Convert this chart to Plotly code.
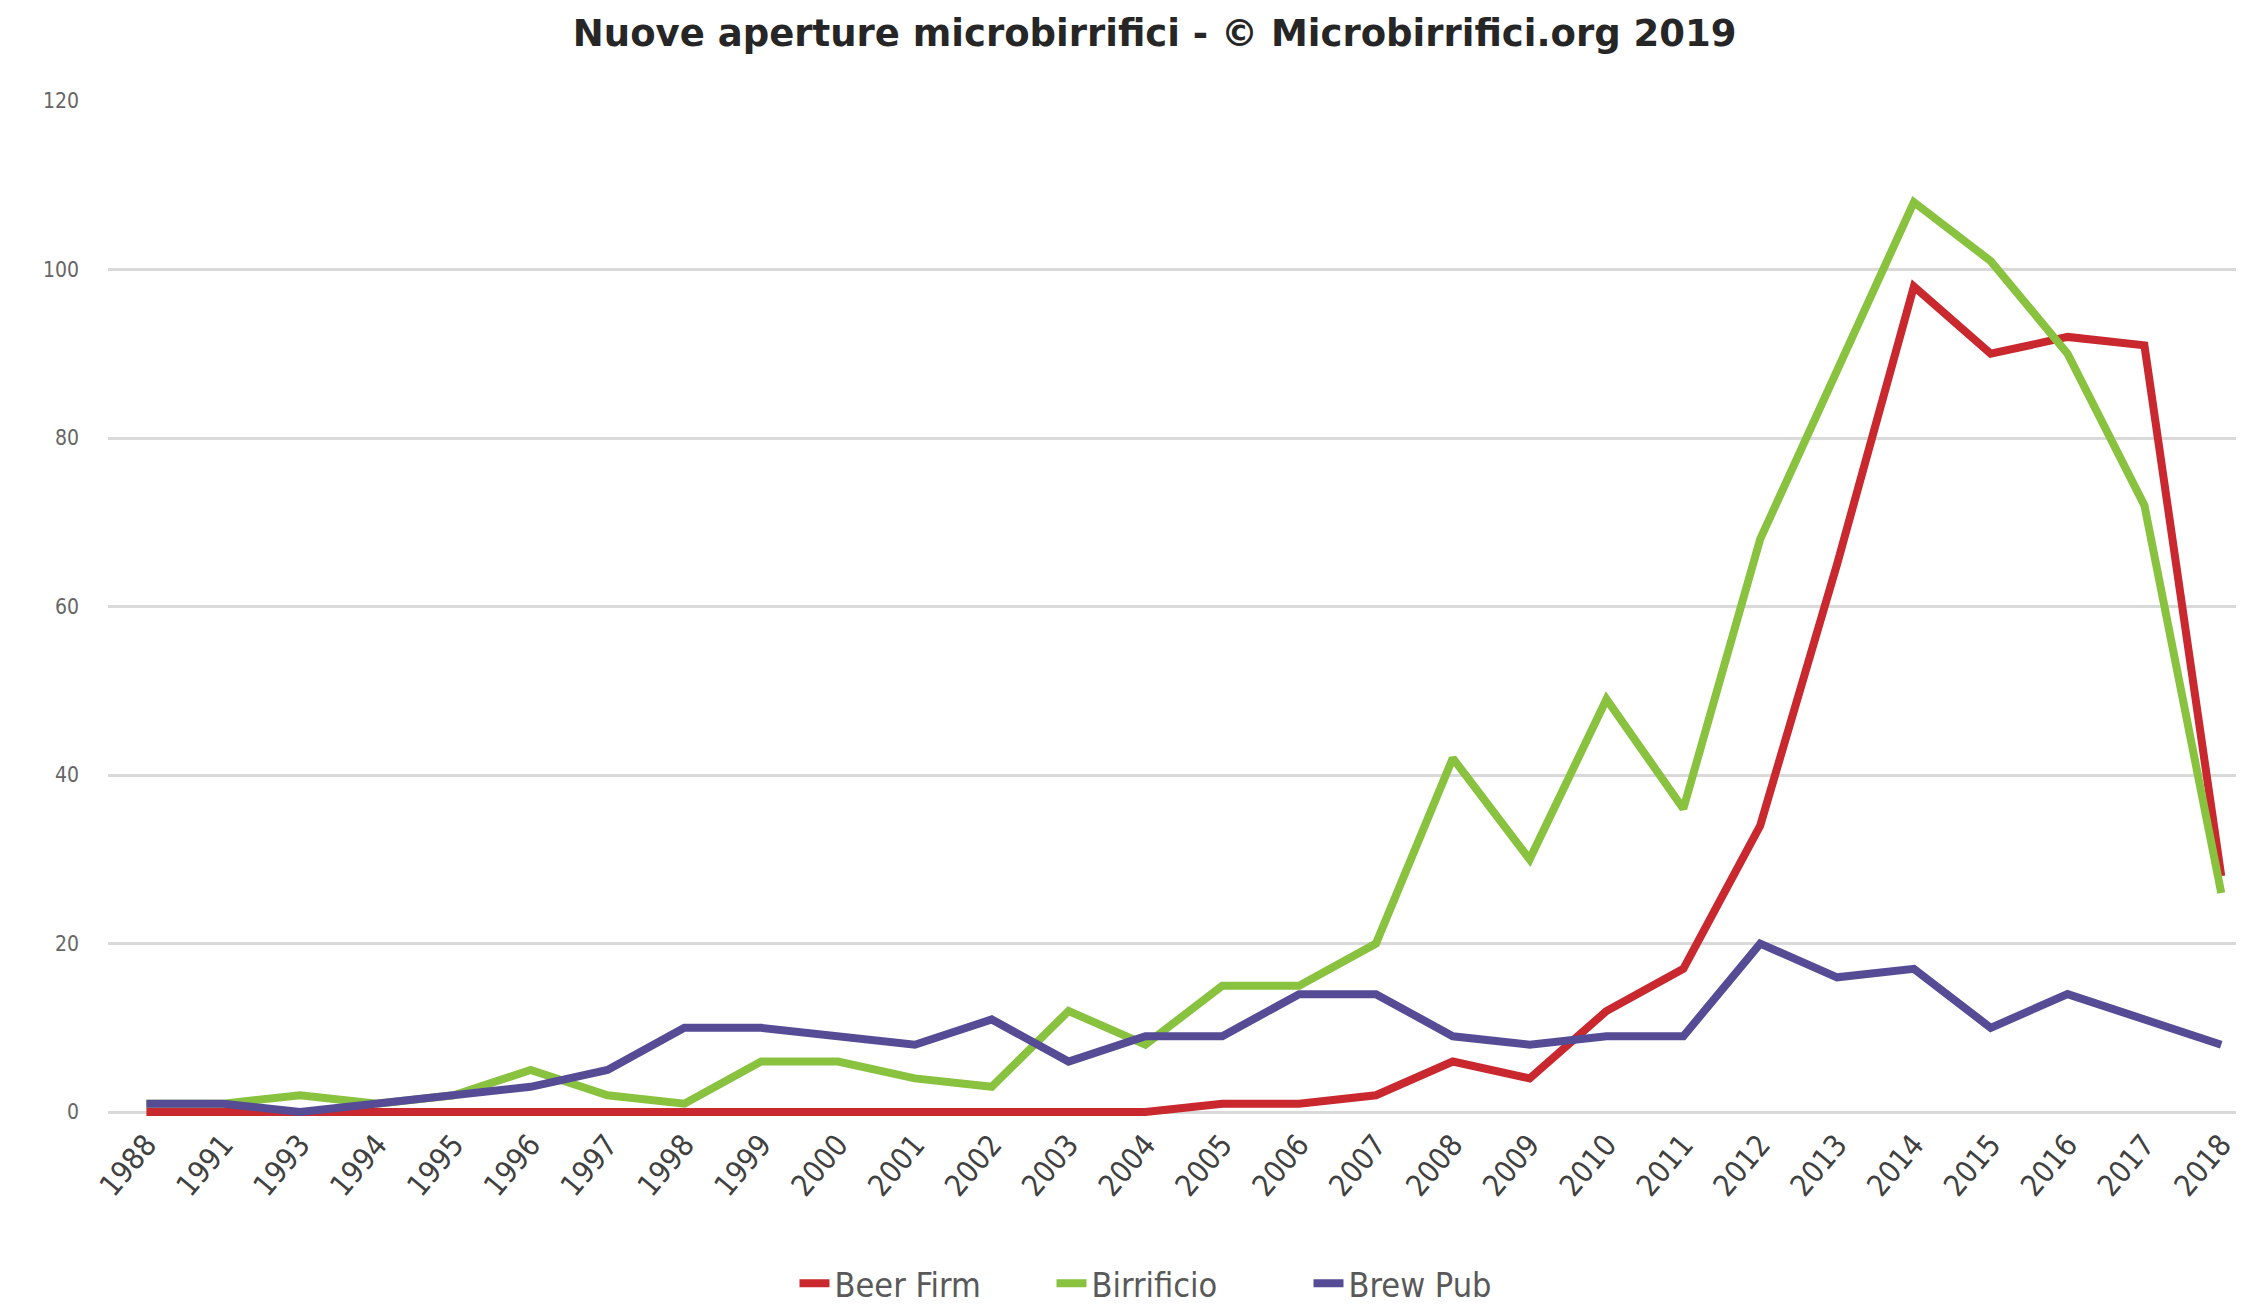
import plotly.graph_objects as go

# categories (years) and series values
years = ["1988", "1991", "1993", "1994", "1995", "1996", "1997", "1998", "1999", "2000",
         "2001", "2002", "2003", "2004", "2005", "2006", "2007", "2008", "2009", "2010",
         "2011", "2012", "2013", "2014", "2015", "2016", "2017", "2018"]

beer_firm = [0, 0, 0, 0, 0, 0, 0, 0, 0, 0,
             0, 0, 0, 0, 1, 1, 2, 6, 4, 12,
             17, 34, 65, 98, 90, 92, 91, 28]

birrificio = [1, 1, 2, 1, 2, 5, 2, 1, 6, 6,
              4, 3, 12, 8, 15, 15, 20, 42, 30, 49,
              36, 68, 88, 108, 101, 90, 72, 26]

brew_pub = [1, 1, 0, 1, 2, 3, 5, 10, 10, 9,
            8, 11, 6, 9, 9, 14, 14, 9, 8, 9,
            9, 20, 16, 17, 10, 14, 11, 8]

series = [
    ("Beer Firm", beer_firm, "#c8282e"),
    ("Birrificio", birrificio, "#88c23f"),
    ("Brew Pub", brew_pub, "#554c95"),
]

fig = go.Figure()

for name, values, color in series:
    fig.add_trace(go.Scatter(
        x=years,
        y=values,
        mode="lines",
        name=name,
        line=dict(color=color, width=8),
    ))

fig.update_layout(
    width=2244,
    height=1305,
    paper_bgcolor="white",
    plot_bgcolor="white",
    font=dict(family="DejaVu Sans Condensed, Liberation Sans Narrow, sans-serif", color="#404040"),
    title=dict(
        text="<b>Nuove aperture microbirrifici - © Microbirrifici.org 2019</b>",
        x=0.511, xanchor="center",
        y=0.981, yanchor="middle",
        font=dict(family="DejaVu Sans, sans-serif", size=37, color="#262626"),
    ),
    # bottom margin leaves a little room under 0 so the zero-valued line is not clipped
    margin=dict(l=100, r=0, t=93, b=187),
    legend=dict(
        orientation="h",
        x=0.5, xanchor="center",
        y=-0.163, yanchor="middle",
        font=dict(size=34, color="#595959"),
        entrywidth=212,
    ),
    showlegend=True,
)

fig.update_xaxes(
    type="category",
    range=[-0.5, 27.4],
    tickangle=-50,
    tickfont=dict(size=30, color="#404040"),
    showgrid=False,
    showline=False,
    ticks="",
    ticklabelstandoff=2,
    ticklabelshift=0,
)

fig.update_yaxes(
    range=[-0.7, 120],
    tickvals=[0, 20, 40, 60, 80, 100, 120],
    tickfont=dict(size=21, color="#666666"),
    showgrid=True,
    gridcolor="#d9d9d9",
    gridwidth=3,
    zeroline=False,
    ticks="",
    ticklabelstandoff=28,
)

fig.write_html("out.html")
